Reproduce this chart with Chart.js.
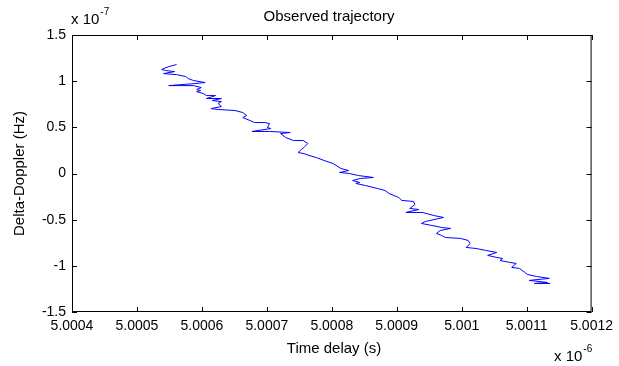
<!DOCTYPE html>
<html>
<head>
<meta charset="utf-8">
<script src="https://cdn.jsdelivr.net/npm/chart.js@4"></script>
<style>
  html, body { margin: 0; padding: 0; background: #ffffff; }
  #wrap { width: 619px; height: 366px; }
</style>
</head>
<body>
<div id="wrap"><canvas id="trajChart" width="619" height="366"></canvas></div>
<script>
// time delay, in units of 1e-6 s
const delayX = [
    5.000561, 5.000549, 5.000538, 5.000544, 5.000558, 5.000541, 5.000561, 5.000575, 5.000579, 5.000587,
    5.000605, 5.000589, 5.000549, 5.000587, 5.000599, 5.000592, 5.000598, 5.000592, 5.000602, 5.000607,
    5.000621, 5.000607, 5.000630, 5.000616, 5.000630, 5.000625, 5.000630, 5.000614, 5.000625, 5.000651,
    5.000663, 5.000669, 5.000663, 5.000674, 5.000681, 5.000697, 5.000704, 5.000701, 5.000706, 5.000677,
    5.000704, 5.000736, 5.000721, 5.000729, 5.000741, 5.000756, 5.000763, 5.000757, 5.000753, 5.000748,
    5.000757, 5.000765, 5.000776, 5.000788, 5.000802, 5.000814, 5.000826, 5.000812, 5.000827, 5.000841,
    5.000864, 5.000844, 5.000832, 5.000843, 5.000837, 5.000852, 5.000870, 5.000882, 5.000888, 5.000903,
    5.000908, 5.000926, 5.000928, 5.000920, 5.000934, 5.000914, 5.000940, 5.000957, 5.000972, 5.000944,
    5.000938, 5.000954, 5.000969, 5.000983, 5.000967, 5.000961, 5.000969, 5.000975, 5.000998, 5.001010,
    5.001013, 5.001007, 5.001022, 5.001037, 5.001054, 5.001040, 5.001054, 5.001063, 5.001059, 5.001074,
    5.001084, 5.001077, 5.001089, 5.001097, 5.001101, 5.001115, 5.001135, 5.001119, 5.001104, 5.001132,
    5.001112, 5.001136
];
// delta-doppler, in units of 1e-7 Hz
const dopplerY = [
    1.180, 1.158, 1.126, 1.115, 1.104, 1.082, 1.071, 1.050, 1.028, 1.007,
    0.985, 0.974, 0.952, 0.952, 0.931, 0.909, 0.898, 0.887, 0.866, 0.844,
    0.844, 0.812, 0.812, 0.790, 0.779, 0.758, 0.725, 0.703, 0.693, 0.682,
    0.660, 0.628, 0.606, 0.574, 0.552, 0.552, 0.541, 0.498, 0.487, 0.455,
    0.455, 0.444, 0.433, 0.390, 0.357, 0.357, 0.325, 0.281, 0.260, 0.227,
    0.216, 0.195, 0.173, 0.141, 0.108, 0.054, 0.032, 0.011, 0.000, -0.022,
    -0.043, -0.054, -0.076, -0.097, -0.108, -0.130, -0.162, -0.184, -0.216, -0.260,
    -0.292, -0.303, -0.336, -0.379, -0.390, -0.422, -0.422, -0.455, -0.476, -0.520,
    -0.541, -0.563, -0.584, -0.595, -0.617, -0.649, -0.671, -0.693, -0.703, -0.725,
    -0.758, -0.801, -0.812, -0.833, -0.855, -0.887, -0.909, -0.920, -0.942, -0.963,
    -0.974, -1.017, -1.028, -1.071, -1.093, -1.115, -1.136, -1.147, -1.158, -1.180,
    -1.191, -1.191
];

const xTickValues = [5.0004, 5.0005, 5.0006, 5.0007, 5.0008, 5.0009, 5.0010, 5.0011, 5.0012];
const yTickValues = [-1.5, -1, -0.5, 0, 0.5, 1, 1.5];

const chartTitle = 'Observed trajectory';
const xTitle     = 'Time delay (s)';
const yTitle     = 'Delta-Doppler (Hz)';
const xExponent  = '-6';
const yExponent  = '-7';

const FONT = '"Liberation Sans", Arial, sans-serif';

const points = delayX.map((x, i) => ({ x: x, y: dopplerY[i] }));

// matlab style frame: box, inward ticks, title, axis labels, multipliers
const matlabFrame = {
    id: 'matlabFrame',
    afterDraw(chart) {
        const ctx = chart.ctx;
        const a = chart.chartArea;
        const xs = chart.scales.x, ys = chart.scales.y;
        const tl = 5;
        ctx.save();
        ctx.strokeStyle = '#000';
        ctx.lineWidth = 1;
        ctx.strokeRect(a.left + 0.5, a.top + 0.5, a.right - a.left - 1, a.bottom - a.top - 1);
        ctx.beginPath();
        xTickValues.forEach(v => {
            const px = Math.round(xs.getPixelForValue(v)) + 0.5;
            ctx.moveTo(px, a.bottom); ctx.lineTo(px, a.bottom - tl);
            ctx.moveTo(px, a.top); ctx.lineTo(px, a.top + tl);
        });
        yTickValues.forEach(v => {
            const py = Math.round(ys.getPixelForValue(v)) + 0.5;
            ctx.moveTo(a.left, py); ctx.lineTo(a.left + tl, py);
            ctx.moveTo(a.right, py); ctx.lineTo(a.right - tl, py);
        });
        ctx.stroke();

        ctx.fillStyle = '#000';
        ctx.font = '15px ' + FONT;
        ctx.textAlign = 'center';
        ctx.textBaseline = 'middle';
        ctx.fillText(chartTitle, 329, 17);
        ctx.fillText(xTitle, 334, 349);

        ctx.save();
        ctx.translate(20, (a.top + a.bottom) / 2);
        ctx.rotate(-Math.PI / 2);
        ctx.fillText(yTitle, 0, 0);
        ctx.restore();

        // multipliers
        ctx.textAlign = 'left';
        ctx.font = '15px ' + FONT;
        ctx.fillText('x 10', 71, 20);
        let w = ctx.measureText('x 10').width;
        ctx.font = '10px ' + FONT;
        ctx.fillText(yExponent, 71 + w + 1, 12);

        ctx.font = '15px ' + FONT;
        ctx.fillText('x 10', 554, 357);
        w = ctx.measureText('x 10').width;
        ctx.font = '10px ' + FONT;
        ctx.fillText(xExponent, 554 + w + 1, 349);
        ctx.restore();
    }
};

new Chart(document.getElementById('trajChart').getContext('2d'), {
    type: 'scatter',
    data: {
        datasets: [{
            label: 'trajectory',
            data: points,
            showLine: true,
            borderColor: '#0000ff',
            borderWidth: 1,
            pointRadius: 0,
            tension: 0,
            fill: false
        }]
    },
    options: {
        responsive: false,
        animation: false,
        layout: { padding: { top: 35, right: 21, left: 0, bottom: 0 } },
        plugins: {
            legend: { display: false },
            title: { display: false },
            tooltip: { enabled: false }
        },
        scales: {
            x: {
                type: 'linear',
                min: 5.0004,
                max: 5.0012,
                afterBuildTicks: s => { s.ticks = xTickValues.map(v => ({ value: v })); },
                afterFit: s => { s.height = 54; },
                grid: { display: false, drawTicks: false },
                border: { display: false },
                ticks: {
                    color: '#000',
                    padding: 6,
                    maxRotation: 0,
                    autoSkip: false,
                    font: { family: FONT, size: 14 },
                    callback: v => String(parseFloat(v.toFixed(4)))
                }
            },
            y: {
                type: 'linear',
                min: -1.5,
                max: 1.5,
                afterBuildTicks: s => { s.ticks = yTickValues.map(v => ({ value: v })); },
                afterFit: s => { s.width = 72; },
                grid: { display: false, drawTicks: false },
                border: { display: false },
                ticks: {
                    color: '#000',
                    padding: 6,
                    autoSkip: false,
                    font: { family: FONT, size: 14 },
                    callback: v => String(v)
                }
            }
        }
    },
    plugins: [matlabFrame]
});
</script>
</body>
</html>
